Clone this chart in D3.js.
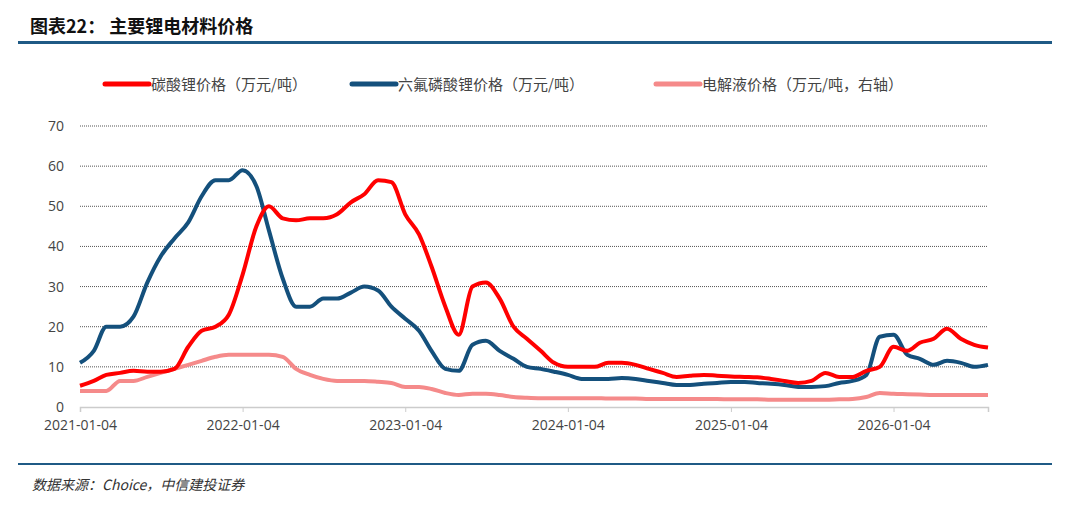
<!DOCTYPE html>
<html><head><meta charset="utf-8">
<script src="https://cdn.jsdelivr.net/npm/d3@7"></script>
<style>body{margin:0;background:#fff;font-family:"Noto Sans CJK SC","Noto Sans",sans-serif;}</style>
</head><body>
<svg id="chart" width="1080" height="507"></svg>
<script>
var startMonth = new Date(2021, 0, 4);
var tickLabels = ["2021-01-04","2022-01-04","2023-01-04","2024-01-04","2025-01-04","2026-01-04"];
// monthly values, 2021-01 .. 2026-08
var li2co3 = [5.3,6.5,8,8.5,9,8.8,8.8,9.5,15,19,20,23,
  33,45,50,47,46.5,47,47,48,51,53,56.5,56,
  48,43,35,25,18,30,31,27,20,17,14,11,
  10,10,10,11,11,10.5,9.5,8.5,7.5,7.8,8,7.8,
  7.6,7.5,7.4,7,6.5,6,6.5,8.5,7.5,7.5,9,10,
  15,14,16,17,19.5,17,15.5,14.8];
var lipf6 = [11,14,20,20,22.5,31,37.5,42,46,52.5,56.5,56.5,
  59,55,44,32,25,25,27,27,28.5,30,29,25,
  22,19,14,9.5,9,15.5,16.5,14,12,10,9.5,8.8,
  8,7,7,7,7.2,7,6.5,6,5.5,5.5,5.8,6,
  6.2,6.2,6,5.8,5.5,5,5,5.2,6,6.5,8,17.5,
  18,13,12,10.5,11.5,11,10,10.5];
var electrolyte = [4,4,4,6.5,6.5,7.5,8.5,9.5,10.5,11.5,12.5,13,
  13,13,13,12.5,9.5,8,7,6.5,6.5,6.5,6.3,6,
  5,5,4.5,3.5,3,3.3,3.3,3,2.5,2.3,2.2,2.2,
  2.2,2.2,2.2,2.1,2.1,2.1,2,2,2,2,2,2,
  1.9,1.9,1.9,1.8,1.8,1.8,1.8,1.8,1.9,2,2.5,3.5,
  3.3,3.2,3.1,3,3,3,3,3];
var seriesNames = ["碳酸锂价格（万元/吨）","六氟磷酸锂价格（万元/吨）","电解液价格（万元/吨，右轴）"];
var seriesColors = ["#ff0000","#14507c","#f58a8a"];

var svg = d3.select("#chart");
var plotLeft = 80, plotRight = 988, plotTop = 126, plotBottom = 407;

svg.append("text").attr("x", 30).attr("y", 33).attr("font-size", 18).attr("font-weight", "bold")
  .attr("fill", "#111").text("图表22：  主要锂电材料价格");
svg.append("rect").attr("x", 18).attr("y", 41).attr("width", 1034).attr("height", 3).attr("fill", "#1f5a85");

var x = d3.scaleTime().domain([startMonth, new Date(2026, 7, 4)]).range([plotLeft, plotRight]);
var y = d3.scaleLinear().domain([0, 70]).range([plotBottom, plotTop]);
var parse = d3.timeParse("%Y-%m-%d");

svg.append("g").selectAll("line").data(d3.range(10, 80, 10)).enter().append("line")
  .attr("x1", plotLeft).attr("x2", plotRight).attr("y1", d => y(d)).attr("y2", d => y(d))
  .attr("stroke", "#555").attr("stroke-dasharray", "1,1").attr("stroke-width", 1);

var yAxis = svg.append("g").attr("transform", "translate(" + plotLeft + ",0)")
  .call(d3.axisLeft(y).tickValues(d3.range(0, 80, 10)).tickSize(0).tickPadding(16));
yAxis.select(".domain").remove();
yAxis.selectAll("text").attr("font-size", 14).attr("fill", "#444").attr("font-family", "Open Sans, sans-serif");

var xAxis = svg.append("g").attr("transform", "translate(0," + plotBottom + ")")
  .call(d3.axisBottom(x).tickValues(tickLabels.map(parse)).tickFormat(d3.timeFormat("%Y-%m-%d")).tickSize(5).tickPadding(8));
xAxis.select(".domain").attr("stroke", "#ccc").attr("stroke-width", 1.5);
xAxis.selectAll(".tick line").attr("stroke", "#ccc");
xAxis.selectAll("text").attr("font-size", 14).attr("fill", "#444").attr("font-family", "Open Sans, sans-serif");

var line = d3.line().x((d, i) => x(d3.timeMonth.offset(startMonth, i))).y(d => y(d)).curve(d3.curveMonotoneX);
[electrolyte, lipf6, li2co3].forEach(function (s, k) {
  svg.append("path").datum(s).attr("d", line).attr("fill", "none")
    .attr("stroke", seriesColors[2 - k]).attr("stroke-width", 4).attr("stroke-linejoin", "round");
});

var legendX = [105, 352, 656];
seriesNames.forEach(function (n, i) {
  svg.append("line").attr("x1", legendX[i]).attr("x2", legendX[i] + 44).attr("y1", 84).attr("y2", 84)
    .attr("stroke", seriesColors[i]).attr("stroke-width", 5).attr("stroke-linecap", "round");
  svg.append("text").attr("x", legendX[i] + 46).attr("y", 90).attr("font-size", 15).attr("fill", "#444").text(n);
});

svg.append("rect").attr("x", 18).attr("y", 463).attr("width", 1034).attr("height", 2).attr("fill", "#1f5a85");
svg.append("text").attr("x", 32).attr("y", 490).attr("font-size", 14).attr("font-style", "italic")
  .attr("fill", "#333").text("数据来源：Choice，中信建投证券");
</script>
</body></html>
